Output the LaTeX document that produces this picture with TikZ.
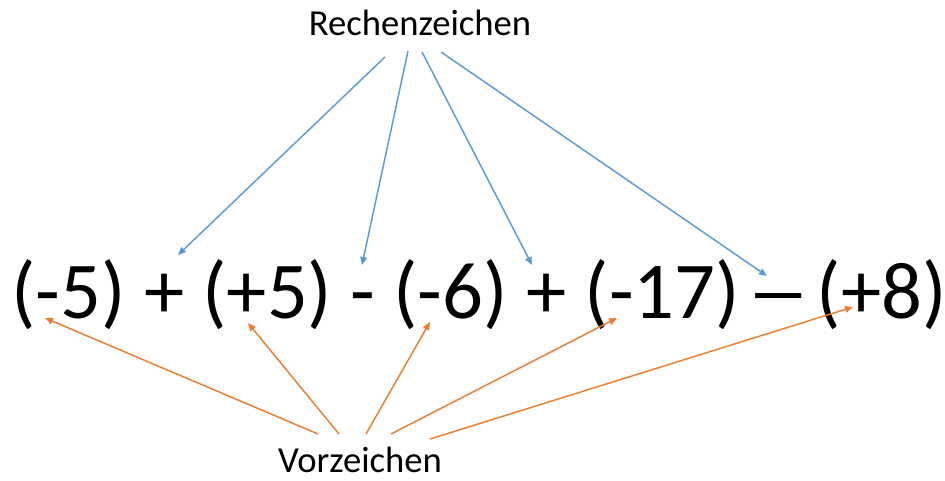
\documentclass[tikz,border=0pt]{standalone}
\usepackage{fontspec}
\setmainfont{Carlito}
\usetikzlibrary{arrows.meta}
\definecolor{rzblue}{HTML}{5B9BD5}
\definecolor{vzorange}{HTML}{ED7D31}

\begin{document}
\begin{tikzpicture}[x=0.75pt, y=-0.75pt,
        rzarrow/.style={-{Triangle[length=6pt, width=5pt]}, rzblue, line width=1.1pt},
        vzarrow/.style={-{Triangle[length=6pt, width=5pt]}, vzorange, line width=1.1pt}]
        \useasboundingbox (0,0) rectangle (945,481);

        \node[anchor=base, inner sep=0pt, font=\fontsize{60.5}{72}\selectfont] (term) at (479,318) {(-5) + (+5) - (-6) + (-17)\hspace{-0.15em} \scalebox{1.6}[1]{–} \hspace{-0.15em}(+8)};
        \node[anchor=base, font=\fontsize{27.5}{33}\selectfont] (rechen) at (420,36) {Rechenzeichen};
        \node[anchor=base, inner sep=0pt, font=\fontsize{27.5}{33}\selectfont] (vor) at (360,472) {Vorzeichen};

        % Rechenzeichen
        \coordinate (rs1) at (385,57);  \coordinate (rt1) at (178,255);
        \coordinate (rs2) at (408,51);  \coordinate (rt2) at (362,265);
        \coordinate (rs3) at (422,52);  \coordinate (rt3) at (532,265);
        \coordinate (rs4) at (441,52);  \coordinate (rt4) at (767,276);
        \foreach \i in {1,...,4}
            \draw[rzarrow] (rs\i) -- (rt\i);

        % Vorzeichen
        \coordinate (vs1) at (318,434); \coordinate (vt1) at (45,318);
        \coordinate (vs2) at (339,434); \coordinate (vt2) at (248,323);
        \coordinate (vs3) at (366,434); \coordinate (vt3) at (430,322);
        \coordinate (vs4) at (391,434); \coordinate (vt4) at (617,318);
        \coordinate (vs5) at (430,439); \coordinate (vt5) at (853,307);
        \foreach \i in {1,...,5}
            \draw[vzarrow] (vs\i) -- (vt\i);
    \end{tikzpicture}
\end{document}
